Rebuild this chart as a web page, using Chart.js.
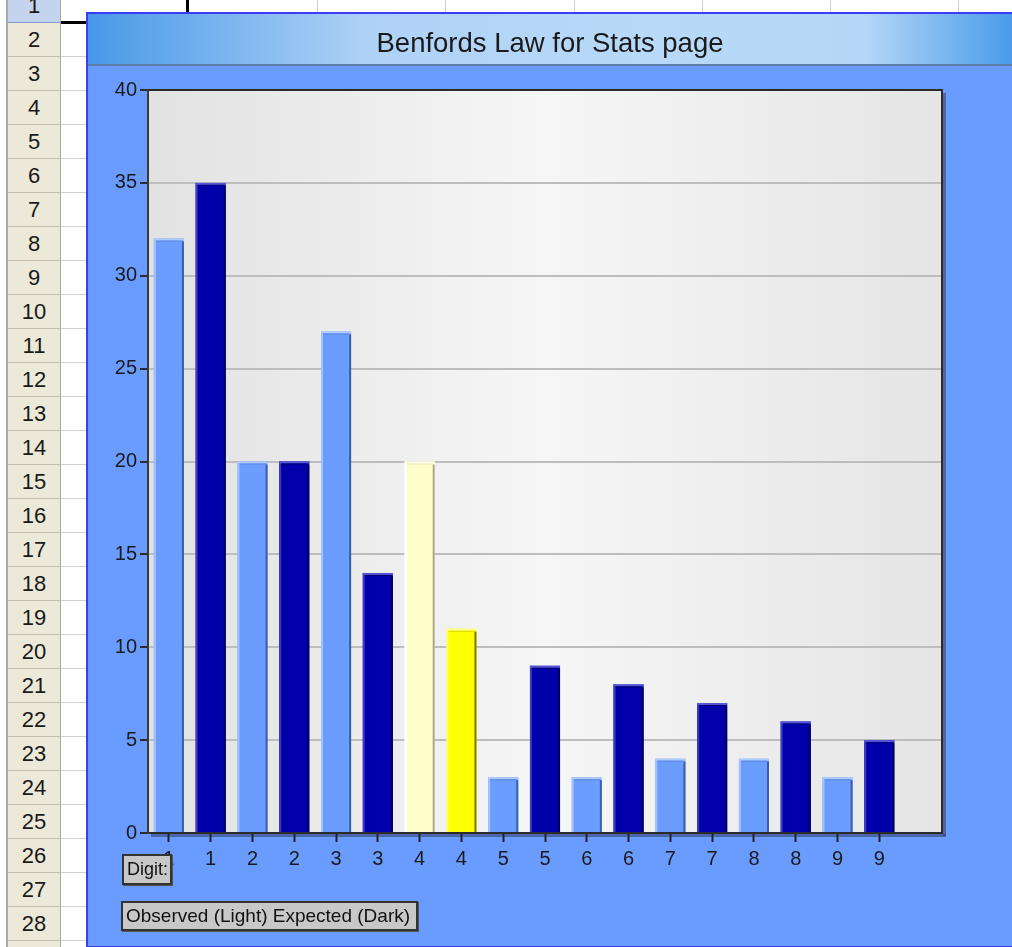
<!DOCTYPE html>
<html>
<head>
<meta charset="utf-8">
<script src="https://cdn.jsdelivr.net/npm/chart.js@4.4.0/dist/chart.umd.min.js"></script>
<style>
html,body{margin:0;padding:0;width:1012px;height:947px;overflow:hidden;background:#fff;font-family:"Liberation Sans",Arial,sans-serif;}
#sheet{position:absolute;left:0;top:0;width:1012px;height:947px;}
#leftline{position:absolute;left:6px;top:0;width:2px;height:947px;background:#a9a9a9;}
.rowhdr{position:absolute;left:8px;width:53px;height:34px;background:#ece9d8;border-bottom:1px solid #c2bfaf;border-right:1px solid #aca899;box-sizing:border-box;text-align:center;font-size:22px;line-height:34px;color:#1a1a1a;}
.rowhdr.sel{background:#c4d4ee;border-bottom:1px solid #7f9dcf;}
.hline{position:absolute;left:61px;width:30px;height:1px;background:#d0d0d0;}
.vline{position:absolute;top:0;width:1px;height:14px;background:#d0d0d0;}
#selH{position:absolute;left:61px;top:21px;width:30px;height:3px;background:#000;}
#selV{position:absolute;left:186px;top:0;width:3px;height:24px;background:#000;}
#chartbox{position:absolute;left:86px;top:12px;width:926px;height:935px;border-left:2px solid #3c3cf5;border-top:2px solid #3c3cf5;border-bottom:1px solid #3c3cf5;box-sizing:border-box;background:#6a9cff;}
#chartbox canvas{position:absolute;left:0;top:0;}
.btn{position:absolute;background:#c8c8c8;border:2px solid #333;box-sizing:border-box;color:#111;white-space:nowrap;line-height:26px;padding-left:3px;box-shadow:1px 1px 0 #555;}
#digitBtn{left:122px;top:854px;width:50px;height:31px;font-size:18px;}
#legendBtn{left:121px;top:901px;width:297px;height:30px;font-size:19px;}
</style>
</head>
<body>
<div id="sheet">
  <div id="leftline"></div>
  <div id="rows"></div>
  <div class="vline" style="left:317px"></div>
  <div class="vline" style="left:445px"></div>
  <div class="vline" style="left:574px"></div>
  <div class="vline" style="left:702px"></div>
  <div class="vline" style="left:830px"></div>
  <div class="vline" style="left:958px"></div>
  <div id="selH"></div>
  <div id="selV"></div>
  <div id="chartbox"><canvas id="c" width="924" height="932"></canvas></div>
  <div class="btn" id="digitBtn">Digit:</div>
  <div class="btn" id="legendBtn">Observed (Light) Expected (Dark)</div>
</div>
<script>
// ---- data ----
const digits = ['1','2','3','4','5','6','7','8','9'];
const observed = [32, 20, 27, 20, 3, 3, 4, 4, 3];
const expected = [35, 20, 14, 11, 9, 8, 7, 6, 5];
const yTicks = [0, 5, 10, 15, 20, 25, 30, 35, 40];
const highlightDigit = '4';
const chartTitle = 'Benfords Law for Stats page';

// spreadsheet row headers
(function(){
  const rows = document.getElementById('rows');
  for (let k = 1; k <= 29; k++) {
    const top = 34 * k - 45;
    const d = document.createElement('div');
    d.className = 'rowhdr' + (k === 1 ? ' sel' : '');
    d.style.top = top + 'px';
    d.textContent = k;
    rows.appendChild(d);
    const h = document.createElement('div');
    h.className = 'hline';
    h.style.top = (top + 33) + 'px';
    rows.appendChild(h);
  }
})();

// build bar table from the arrays
const labels = [];
const values = [];
const kinds = [];
digits.forEach((d, i) => {
  labels.push(d); values.push(observed[i]); kinds.push(d === highlightDigit ? 'hlLight' : 'light');
  labels.push(d); values.push(expected[i]); kinds.push(d === highlightDigit ? 'hlDark' : 'dark');
});
labels.push('');

const styles = {
  light:   {fill:'#6b9dff', top:'#b0ccff', under:'#5a86e0', left:'#a2c2ff', right:'#3d5fa6'},
  dark:    {fill:'#0000aa', top:'#5656d6', under:'#00006e', left:'#3a3ac6', right:'#00005a'},
  hlLight: {fill:'#ffffcc', top:'#ffffee', under:'#e8e8b8', left:'#ffffff', right:'#a8a888'},
  hlDark:  {fill:'#ffff00', top:'#ffff99', under:'#d8d800', left:'#ffff80', right:'#7a7a00'}
};

const bgPlugin = {
  id: 'bg',
  beforeDraw(chart) {
    const {ctx, width, height, chartArea: a} = chart;
    ctx.save();
    ctx.fillStyle = '#6a9cff';
    ctx.fillRect(0, 0, width, height);
    const g = ctx.createLinearGradient(0, 0, width, 0);
    g.addColorStop(0, '#4898e8');
    g.addColorStop(0.3, '#aed2f6');
    g.addColorStop(0.6, '#b8d9f8');
    g.addColorStop(0.84, '#b5d7f7');
    g.addColorStop(1, '#4a9be9');
    ctx.fillStyle = g;
    ctx.fillRect(0, 0, width, 51);
    ctx.fillStyle = '#5d7ea4';
    ctx.fillRect(0, 50, width, 2);
    const pg = ctx.createLinearGradient(a.left, 0, a.right, 0);
    pg.addColorStop(0, '#e2e2e2');
    pg.addColorStop(0.5, '#f6f6f6');
    pg.addColorStop(1, '#e5e5e5');
    ctx.fillStyle = pg;
    ctx.fillRect(a.left, a.top, a.right - a.left, a.bottom - a.top);
    ctx.restore();
  },
  afterDatasetsDraw(chart) {
    const ctx = chart.ctx;
    const meta = chart.getDatasetMeta(0);
    ctx.save();
    meta.data.forEach((bar, i) => {
      const p = bar.getProps(['x', 'y', 'base', 'width'], true);
      const s = styles[kinds[i]];
      const l = p.x - p.width / 2, r = p.x + p.width / 2, h = p.base - p.y;
      ctx.fillStyle = s.left;  ctx.fillRect(l, p.y, 2, h);
      ctx.fillStyle = s.right; ctx.fillRect(r - 2, p.y + 3, 2, h - 3);
      ctx.fillStyle = s.top;   ctx.fillRect(l, p.y, p.width, 2);
      ctx.fillStyle = s.under; ctx.fillRect(l + 2, p.y + 2, p.width - 4, 1);
    });
    ctx.restore();
  },
  afterDraw(chart) {
    const {ctx, chartArea: a} = chart;
    ctx.save();
    ctx.fillStyle = 'rgba(40,40,60,0.45)';
    ctx.fillRect(a.right + 1, a.top + 3, 3, a.bottom - a.top);
    ctx.fillRect(a.left + 3, a.bottom + 1, a.right - a.left + 1, 3);
    ctx.strokeStyle = '#2b2b2b';
    ctx.lineWidth = 2;
    ctx.beginPath();
    ctx.moveTo(a.left, a.top);
    ctx.lineTo(a.right, a.top);
    ctx.lineTo(a.right, a.bottom);
    ctx.stroke();
    ctx.restore();
  }
};

const font = 'Liberation Sans, Arial, sans-serif';
new Chart(document.getElementById('c'), {
  type: 'bar',
  data: {
    labels: labels,
    datasets: [{
      data: values,
      backgroundColor: kinds.map(k => styles[k].fill),
      borderWidth: 0,
      barPercentage: 0.72,
      categoryPercentage: 1
    }]
  },
  plugins: [bgPlugin],
  options: {
    responsive: false,
    animation: false,
    events: [],
    layout: {padding: 0},
    plugins: {
      legend: {display: false},
      tooltip: {enabled: false},
      title: {
        display: true,
        text: chartTitle,
        color: '#1a1a1a',
        font: {family: font, size: 27.5, weight: 'normal', lineHeight: 1.2},
        padding: {top: 14, bottom: 29}
      }
    },
    scales: {
      x: {
        offset: true,
        grid: {display: true, drawOnChartArea: false, offset: false, tickLength: 9,
               tickColor: ctx => (ctx.index === labels.length - 1 ? 'rgba(0,0,0,0)' : '#222'), tickWidth: 2},
        border: {display: true, color: '#2b2b2b', width: 2},
        ticks: {color: '#1a1a1a', font: {family: font, size: 20}, padding: 5, autoSkip: false, maxRotation: 0},
        afterFit(s) { s.height = 113; }
      },
      y: {
        min: 0, max: 40,
        afterBuildTicks(s) { s.ticks = yTicks.map(v => ({value: v})); },
        grid: {color: '#bdbdbd', lineWidth: 2, tickLength: 8, tickColor: '#2b2b2b', tickWidth: 2},
        border: {display: true, color: '#3a3a3a', width: 2},
        ticks: {color: '#1a1a1a', font: {family: font, size: 20}, padding: 3},
        afterFit(s) { s.width = 60; }
      },
      yRight: {
        type: 'linear', axis: 'y', position: 'right', display: true,
        grid: {display: false, drawTicks: false},
        border: {display: false},
        ticks: {display: false},
        afterFit(s) { s.width = 70; }
      }
    }
  }
});
</script>
</body>
</html>
